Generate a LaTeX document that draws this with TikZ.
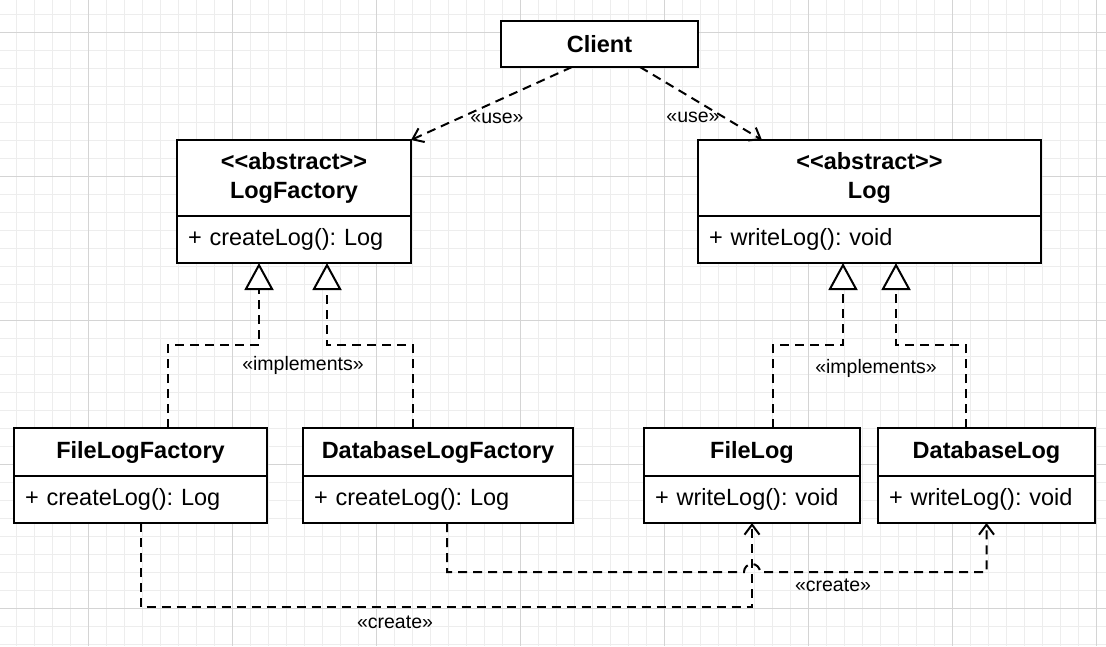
\documentclass[tikz,border=0pt]{standalone}
\usepackage{fontspec}
\setmainfont{Liberation Sans}
\usetikzlibrary{arrows.meta, positioning}
\frenchspacing

\newcommand\classfont{\fontsize{23.5}{29}\selectfont}
\newcommand\stereofont{\fontsize{19.5}{23}\selectfont}

\begin{document}
\begin{tikzpicture}[
  x=1pt, y=-1pt,
  gridminor/.style={line width=1pt, black!7},
  gridmajor/.style={line width=1pt, black!17},
  cls/.style={draw, fill=white, line width=2pt, outer sep=0pt, inner sep=0pt,
              align=center, font=\classfont\bfseries},
  ops/.style={draw, fill=white, line width=2pt, outer sep=0pt, inner xsep=11pt,
              inner ysep=0pt, minimum height=47pt, align=left, font=\classfont},
  dep/.style={line width=2pt, dash pattern=on 9pt off 6pt,
              -{Straight Barb[length=10pt, width=15pt]}},
  impl/.style={line width=2pt, dash pattern=on 9pt off 6pt,
              -{Triangle[length=27pt, width=29pt, fill=white]}},
  stereo/.style={font=\stereofont, inner sep=1pt}
]
  \useasboundingbox (0,0) rectangle (1106,646);

  % grid paper
  \foreach \gx in {16,34,...,1106} \draw[gridminor] (\gx,0) -- (\gx,646);
  \foreach \gy in {14,32,...,646} \draw[gridminor] (0,\gy) -- (1106,\gy);
  \foreach \gx in {88,232,...,1106} \draw[gridmajor] (\gx,0) -- (\gx,646);
  \foreach \gy in {32,176,...,646} \draw[gridmajor] (0,\gy) -- (1106,\gy);

  % client
  \node[cls, minimum width=197pt, minimum height=46pt] (client) at (599.5,44) {Client};

  % abstract classes
  \node[cls, minimum width=234pt, minimum height=76pt] (lfT) at (294,178)
       {<\kern0pt<abstract>\kern0pt>\\LogFactory};
  \node[ops, text width=212pt, below=0pt of lfT] (lfA) {+ createLog(): Log};

  \node[cls, minimum width=343pt, minimum height=76pt] (lgT) at (869.5,178)
       {<\kern0pt<abstract>\kern0pt>\\Log};
  \node[ops, text width=321pt, below=0pt of lgT] (lgA) {+ writeLog(): void};

  % concrete classes
  \node[cls, minimum width=253pt, minimum height=48pt] (flfT) at (140.5,452) {FileLogFactory};
  \node[ops, text width=231pt, below=0pt of flfT] (flfA) {+ createLog(): Log};

  \node[cls, minimum width=270pt, minimum height=48pt] (dlfT) at (438,452) {DatabaseLogFactory};
  \node[ops, text width=248pt, below=0pt of dlfT] (dlfA) {+ createLog(): Log};

  \node[cls, minimum width=216pt, minimum height=48pt] (flT) at (752,452) {FileLog};
  \node[ops, text width=194pt, below=0pt of flT] (flA) {+ writeLog(): void};

  \node[cls, minimum width=217pt, minimum height=48pt] (dlT) at (986.5,452) {DatabaseLog};
  \node[ops, text width=195pt, below=0pt of dlT] (dlA) {+ writeLog(): void};

  % use
  \draw[dep] ([xshift=-27.5pt]client.south) -- (lfT.north east);
  \draw[dep] ([xshift=40.5pt]client.south) -- ([xshift=-107.5pt]lgT.north);
  \node[stereo] (use1) at (497,118) {«use»};
  \node[stereo] (use2) at (693,117) {«use»};

  % implements
  \draw[impl] ([xshift=27.5pt]flfT.north) -- ++(0,-83) -| ([xshift=-35pt]lfA.south);
  \draw[impl] ([xshift=-25pt]dlfT.north) -- ++(0,-83) -| ([xshift=33pt]lfA.south);
  \draw[impl] ([xshift=21pt]flT.north) -- ++(0,-83) -| ([xshift=-26.5pt]lgA.south);
  \draw[impl] ([xshift=-20.5pt]dlT.north) -- ++(0,-83) -| ([xshift=26.5pt]lgA.south);
  \node[stereo] (impl1) at (303,365) {«implements»};
  \node[stereo] (impl2) at (876,368) {«implements»};

  % create
  \coordinate (hop) at (744,572);
  \draw[dep] (flfA.south) -- ++(0,84) -| (flA.south);
  \draw[dep] ([xshift=9pt]dlfA.south) |- (hop)
        arc[start angle=180, end angle=360, radius=8] -| (dlA.south);
  \node[stereo] (create1) at (395,622) {«create»};
  \node[stereo] (create2) at (833,585) {«create»};
\end{tikzpicture}
\end{document}
